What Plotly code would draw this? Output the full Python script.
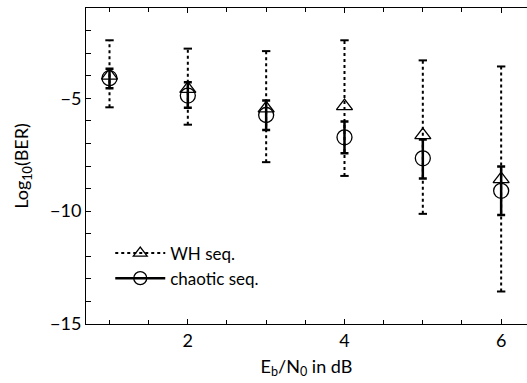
import plotly.graph_objects as go

# Data
ebn0 = [1, 2, 3, 4, 5, 6]
wh_mean = [-4.0, -4.58, -5.45, -5.35, -6.63, -8.58]
wh_upper = [-2.43, -2.80, -2.91, -2.43, -3.32, -3.59]
wh_lower = [-5.40, -6.17, -7.83, -8.44, -10.12, -13.56]
ch_mean = [-4.11, -4.88, -5.74, -6.73, -7.66, -9.10]
ch_upper = [-3.69, -4.29, -5.10, -6.03, -6.83, -8.02]
ch_lower = [-4.55, -5.42, -6.41, -7.44, -8.55, -10.17]

FONT = "Lato"
fig = go.Figure()

# WH dotted error bars
ex, ey = [], []
for xv, lo, hi in zip(ebn0, wh_lower, wh_upper):
    ex += [xv, xv, None]
    ey += [lo, hi, None]
fig.add_trace(go.Scatter(x=ex, y=ey, mode="lines", line=dict(color="black", width=2, dash="dot"),
                         showlegend=False, hoverinfo="skip"))
fig.add_trace(go.Scatter(x=ebn0 + ebn0, y=wh_lower + wh_upper, mode="markers",
                         marker=dict(symbol="line-ew-open", size=6, color="black",
                                     line=dict(color="black", width=2)),
                         showlegend=False, hoverinfo="skip"))

# Chaotic solid error bars
fig.add_trace(go.Scatter(
    x=ebn0, y=ch_mean, mode="markers",
    marker=dict(symbol="circle-open", size=1, color="rgba(0,0,0,0)"),
    error_y=dict(type="data", symmetric=False,
                 array=[u - m for u, m in zip(ch_upper, ch_mean)],
                 arrayminus=[m - l for m, l in zip(ch_mean, ch_lower)],
                 color="black", thickness=2.5, width=4),
    showlegend=False, hoverinfo="skip"))

# Markers
fig.add_trace(go.Scatter(x=ebn0, y=wh_mean, mode="markers",
                         marker=dict(symbol="triangle-up-open", size=14, color="black",
                                     line=dict(color="black", width=1.3)),
                         showlegend=False))
fig.add_trace(go.Scatter(x=ebn0, y=ch_mean, mode="markers",
                         marker=dict(symbol="circle-open", size=15, color="black",
                                     line=dict(color="black", width=1.3)),
                         showlegend=False))

# Legend entries
fig.add_trace(go.Scatter(x=[None], y=[None], mode="lines+markers", name="WH seq.",
                         line=dict(color="black", width=2, dash="dot"),
                         marker=dict(symbol="triangle-up-open", size=12, color="black",
                                     line=dict(color="black", width=1.3))))
fig.add_trace(go.Scatter(x=[None], y=[None], mode="lines+markers", name="chaotic seq.",
                         line=dict(color="black", width=2.5),
                         marker=dict(symbol="circle-open", size=13, color="black",
                                     line=dict(color="black", width=1.3))))

fig.update_layout(
    width=527, height=383,
    margin=dict(l=86, r=0, t=8, b=59, autoexpand=False),
    paper_bgcolor="white", plot_bgcolor="white",
    font=dict(family=FONT, size=18, color="black"),
    showlegend=True,
    legend=dict(x=0.055, y=0.28, xanchor="left", yanchor="top",
                bgcolor="rgba(0,0,0,0)", font=dict(size=17), tracegroupgap=0, itemwidth=50),
)
fig.update_xaxes(range=[0.7, 6.33], tickmode="array", tickvals=[2, 4, 6],
                 ticks="inside", ticklen=5, tickwidth=1, tickcolor="black",
                 minor=dict(dtick=0.5, tick0=0, ticks="inside", ticklen=4, tickcolor="black"),
                 showline=True, linecolor="black", linewidth=1, mirror="allticks",
                 showgrid=False, zeroline=False, automargin=False,
                 title=dict(text="E<sub>b</sub>/N<sub>0</sub> in dB", font=dict(size=18), standoff=10))
fig.update_yaxes(range=[-15, -1], tickmode="array", tickvals=[-15, -10, -5],
                 ticktext=["\u221215", "\u221210", "\u22125"],
                 ticks="inside", ticklen=5, tickwidth=1, tickcolor="black",
                 minor=dict(dtick=1, tick0=0, ticks="inside", ticklen=5, tickcolor="black"),
                 showline=True, linecolor="black", linewidth=1, mirror=False,
                 showgrid=False, zeroline=False, automargin=False,
                 title=dict(text="Log<sub>10</sub>(BER)", font=dict(size=18), standoff=16))

fig.write_html("out.html", config={"displayModeBar": False},
               post_script="document.body.style.margin='0px';document.body.style.overflow='hidden';")
